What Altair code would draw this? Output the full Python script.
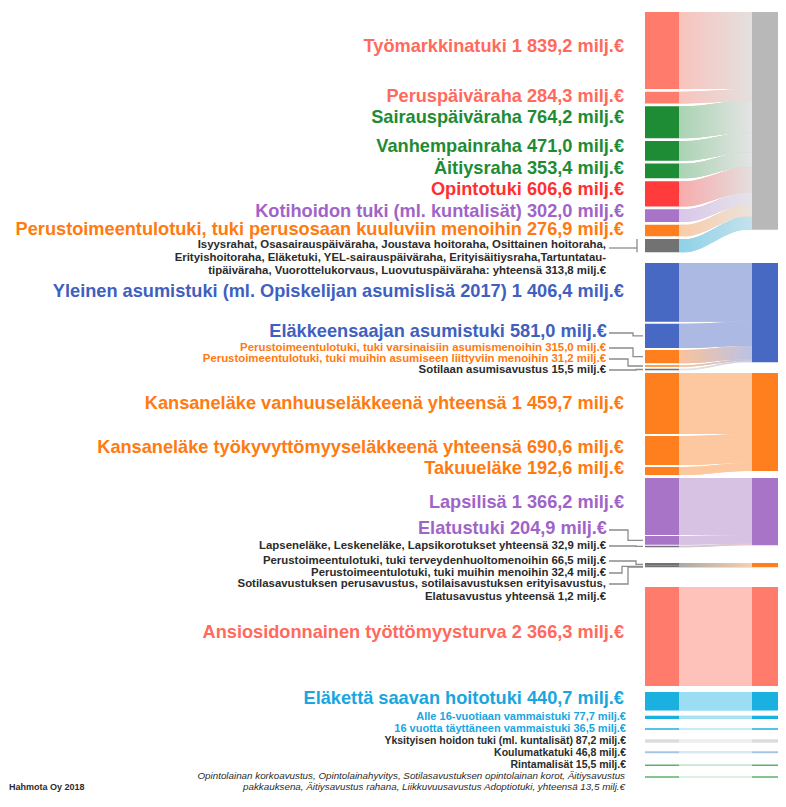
import altair as alt
import pandas as pd

# ------------------------------------------------------------------ data
# benefits (left column), values in milj.€
BENEFIT_VALUES = [
    1839.2, 284.3, 764.2, 471.0, 353.4, 606.6, 302.0, 276.9, 313.8,   # group 0 (grey target)
    1406.4, 581.0, 315.0, 31.2, 15.5,                                # group 1 (housing)
    1459.7, 690.6, 192.6,                                            # group 2 (pensions)
    1366.2, 204.9, 32.9,                                             # group 3 (children)
    66.5, 32.4, 1.2,                                                 # group 4
    2366.3,                                                          # group 5
    440.7,                                                           # group 6
    77.7, 36.5, 87.2, 46.8, 15.5, 13.5,                              # groups 7-12
]
BENEFIT_GROUP = [0] * 9 + [1] * 5 + [2] * 3 + [3] * 3 + [4] * 3 + [5] + [6] + [7, 8, 9, 10, 11, 12]

LABEL_TEXT = [
    "Työmarkkinatuki 1 839,2 milj.€",
    "Peruspäiväraha 284,3 milj.€",
    "Sairauspäiväraha 764,2 milj.€",
    "Vanhempainraha 471,0 milj.€",
    "Äitiysraha 353,4 milj.€",
    "Opintotuki 606,6 milj.€",
    "Kotihoidon tuki (ml. kuntalisät) 302,0 milj.€",
    "Perustoimeentulotuki, tuki perusosaan kuuluviin menoihin 276,9 milj.€",
    "Isyysrahat, Osasairauspäiväraha, Joustava hoitoraha, Osittainen hoitoraha,",
    "Erityishoitoraha, Eläketuki, YEL-sairauspäiväraha, Erityisäitiysraha,Tartuntatau-",
    "tipäiväraha, Vuorottelukorvaus, Luovutuspäiväraha: yhteensä 313,8 milj.€",
    "Yleinen asumistuki (ml. Opiskelijan asumislisä 2017) 1 406,4 milj.€",
    "Eläkkeensaajan asumistuki 581,0 milj.€",
    "Perustoimeentulotuki, tuki varsinaisiin asumismenoihin 315,0 milj.€",
    "Perustoimeentulotuki, tuki muihin asumiseen liittyviin menoihin 31,2 milj.€",
    "Sotilaan asumisavustus 15,5 milj.€",
    "Kansaneläke vanhuuseläkkeenä yhteensä 1 459,7 milj.€",
    "Kansaneläke työkyvyttömyyseläkkeenä yhteensä 690,6 milj.€",
    "Takuueläke 192,6 milj.€",
    "Lapsilisä 1 366,2 milj.€",
    "Elatustuki 204,9 milj.€",
    "Lapseneläke, Leskeneläke, Lapsikorotukset yhteensä 32,9 milj.€",
    "Perustoimeentulotuki, tuki terveydenhuoltomenoihin 66,5 milj.€",
    "Perustoimeentulotuki, tuki muihin menoihin 32,4 milj.€",
    "Sotilasavustuksen perusavustus, sotilaisavustuksen erityisavustus,",
    "Elatusavustus yhteensä 1,2 milj.€",
    "Ansiosidonnainen työttömyysturva 2 366,3 milj.€",
    "Eläkettä saavan hoitotuki 440,7 milj.€",
    "Alle 16-vuotiaan vammaistuki 77,7 milj.€",
    "16 vuotta täyttäneen vammaistuki 36,5 milj.€",
    "Yksityisen hoidon tuki (ml. kuntalisät) 87,2 milj.€",
    "Koulumatkatuki 46,8 milj.€",
    "Rintamalisät 15,5 milj.€",
    "Opintolainan korkoavustus, Opintolainahyvitys, Sotilasavustuksen opintolainan korot, Äitiysavustus",
    "pakkauksena, Äitiysavustus rahana, Liikkuvuusavustus Adoptiotuki, yhteensä 13,5 milj.€",
    "Hahmota Oy 2018",
]

# ------------------------------------------------------------------ layout / style
K = 0.0418          # px per milj.€
MIN_H = 1.5
XL = (645, 679)     # left node column (page px)
XR = (752, 785)     # right node column
GROUP_TOP = [12, 263, 373, 478, 563, 587, 692, 715.7, 728.2, 739.2, 751.3, 764.5, 776.2]
GROUP_GAP = [2.8, 2.0, 2.0, 1.0, 0.0, 0, 0, 0, 0, 0, 0, 0, 0]

SALMON, GREEN, RED, PURPLE = "#FF7B6B", "#1E8B35", "#FF3B3B", "#A874C8"
ORANGE, DGRAY, BLUE, CYAN = "#FF7F1E", "#727272", "#4769C4", "#1AB0E0"
LGRAY, LBLUE, LGREEN = "#DCDCDC", "#A3C6E6", "#5AB46A"

LEFT_COLOR = [SALMON, SALMON, GREEN, GREEN, GREEN, RED, PURPLE, ORANGE, DGRAY,
              BLUE, BLUE, ORANGE, ORANGE, DGRAY,
              ORANGE, ORANGE, ORANGE,
              PURPLE, PURPLE, DGRAY,
              DGRAY, DGRAY, DGRAY,
              SALMON, CYAN, CYAN, CYAN, LGRAY, LBLUE, LGREEN, LGREEN]
RIGHT_COLOR = ["#B8B8B8", BLUE, ORANGE, PURPLE, ORANGE, SALMON, CYAN, CYAN, CYAN,
               LGRAY, LBLUE, LGREEN, LGREEN]
FLOW_FROM = ["#F9C3BC", "#F9C3BC", "#A9D3B2", "#A9D3B2", "#A9D3B2", "#F8ABAB", "#D9C7EA", "#F9CCA8", "#8ED1E8",
             "#ABB9E3", "#ABB9E3", "#FBC29A", "#FBC29A", "#E6E6E6",
             "#FDC89F", "#FDC89F", "#FDC89F",
             "#D8C2E4", "#D8C2E4", "#C8C8C8",
             "#A8A8A8", "#A8A8A8", "#A8A8A8",
             "#FFC2BB", "#9BDDF2", "#A6E0F3", "#C5EBF7", "#EFEFEF", "#D7E7F4", "#C9E7CF", "#DCEFE0"]
FLOW_TO = ["#E3E0DF", "#E3E0DF", "#E4E4E4", "#E4E4E4", "#E4E4E4", "#E4DEDE", "#E6E3E8", "#EAE3DC", "#C4E2EC",
           "#ABB9E3", "#ABB9E3", "#B9C3E6", "#B9C3E6", "#C5CEEC",
           "#FDC89F", "#FDC89F", "#FDC89F",
           "#D8C2E4", "#D8C2E4", "#EBC8D0",
           "#FAD1B0", "#FAD1B0", "#FAD1B0",
           "#FFC2BB", "#9BDDF2", "#A6E0F3", "#C5EBF7", "#EFEFEF", "#D7E7F4", "#C9E7CF", "#DCEFE0"]

TXT = {"salmon": "#FF6A5C", "green": "#1E8B35", "red": "#FF3030", "purple": "#A064C8",
       "orange": "#FF7A10", "blue": "#3F60C0", "cyan": "#19A6DF", "dark": "#2B2B2B"}
LABEL_Y = [47, 97, 118, 147, 169, 190, 212, 230, 245, 258, 271, 292, 332, 348, 359, 370,
           404, 448, 469, 503, 529, 546, 561, 573, 584, 597, 633, 699, 717, 729, 741, 753,
           765, 776, 787, 787]
LABEL_KIND = ["big"] * 8 + ["small"] * 3 + ["big", "bigc", "smallo", "smallo", "smallo",
              "big", "big", "big", "big", "bigc", "small", "small", "small", "small", "small",
              "big", "big", "cyan", "cyan", "small2", "small2", "small2", "italic", "italic", "credit"]
LABEL_COLOR = ["salmon", "salmon", "green", "green", "green", "red", "purple", "orange",
               "dark", "dark", "dark", "blue", "blue", "orange", "orange", "dark",
               "orange", "orange", "orange", "purple", "purple", "dark", "dark", "dark", "dark", "dark",
               "salmon", "cyan", "cyan", "cyan", "dark", "dark", "dark", "dark", "dark", "dark"]
KIND_X = {"big": 624, "bigc": 607, "small": 606, "smallo": 606, "cyan": 626, "small2": 626,
          "italic": 625, "credit": 9}

# connectors: (label y, benefit index, elbow x)
CONNECTORS = [(333, 10, 633), (348, 11, 633), (359, 12, 628), (370, 13, 636),
              (530, 18, 628), (546, 19, 636), (561, 20, 636), (573, 21, 622), (584, 22, 628)]

# ------------------------------------------------------------------ sankey layout
node_rows, flow_rows, pos = [], [], {}
for g in range(len(GROUP_TOP)):
    idx = [i for i, t in enumerate(BENEFIT_GROUP) if t == g]
    ly = GROUP_TOP[g]
    ry = GROUP_TOP[g]
    for i in idx:
        h = BENEFIT_VALUES[i] * K
        if g != 4:
            h = max(h, MIN_H)
        y0, y1 = ly, ly + h
        r0, r1 = ry, ry + h
        pos[i] = (y0, y1)
        node_rows.append({"x": XL[0], "x2": XL[1], "y": y0, "y2": y1, "c": LEFT_COLOR[i]})
        d = 6
        xs = [XL[1], XL[1] + d, XR[0] - d, XR[0]]
        tops = [y0, y0, r0, r0]
        bots = [y1, y1, r1, r1]
        for xx, t, b in zip(xs, tops, bots):
            flow_rows.append({"fid": i, "x": xx, "y": t, "y2": b, "mid": FLOW_FROM[i]})
        ly = y1 + GROUP_GAP[g]
        ry = r1
    node_rows.append({"x": XR[0], "x2": XR[1], "y": GROUP_TOP[g], "y2": ry, "c": RIGHT_COLOR[g]})

nodes = pd.DataFrame(node_rows)
flows = pd.DataFrame(flow_rows)

conn_rows = []
for cid, (lyy, ni, ex) in enumerate(CONNECTORS):
    ny = (pos[ni][0] + pos[ni][1]) / 2
    for o, (xx, yy) in enumerate([(609, lyy), (ex, lyy), (ex, ny), (643, ny)]):
        conn_rows.append({"cid": cid, "o": o, "x": xx, "y": yy})
y8 = pos[8]
for o, (xx, yy) in enumerate([(609, 248), (637, 248)]):
    conn_rows.append({"cid": 100, "o": o, "x": xx, "y": yy})
for o, (xx, yy) in enumerate([(637, y8[0]), (637, y8[1])]):
    conn_rows.append({"cid": 101, "o": o, "x": xx, "y": yy})
conns = pd.DataFrame(conn_rows)

lab_rows = []
for j, t in enumerate(LABEL_TEXT):
    kind = LABEL_KIND[j]
    lab_rows.append({"text": t, "x": KIND_X[kind], "y": LABEL_Y[j], "kind": kind,
                     "c": TXT[LABEL_COLOR[j]]})
labels = pd.DataFrame(lab_rows)

# ------------------------------------------------------------------ chart
W, H = 770, 785
XS = alt.Scale(domain=[8, 8 + W], range=[0, W], nice=False, zero=False)
YS = alt.Scale(domain=[8, 8 + H], range=[0, H], nice=False, zero=False)

layers = []
layers.append(
    alt.Chart(flows).mark_area(interpolate="monotone", strokeWidth=0).encode(
        x=alt.X("x:Q", scale=XS, axis=None),
        y=alt.Y("y:Q", scale=YS, axis=None),
        y2="y2:Q", detail="fid:N", color=alt.Color("mid:N", scale=None))
)
for i in range(len(BENEFIT_VALUES)):
    grad = alt.LinearGradient(
        gradient="linear", x1=0, y1=0, x2=1, y2=0,
        stops=[alt.GradientStop(offset=0, color=FLOW_FROM[i]),
               alt.GradientStop(offset=1, color=FLOW_TO[i])])
    layers.append(
        alt.Chart(flows).transform_filter(alt.datum.fid == i)
        .mark_area(interpolate="monotone", color=grad, strokeWidth=0)
        .encode(x=alt.X("x:Q", scale=XS, axis=None),
                y=alt.Y("y:Q", scale=YS, axis=None),
                y2="y2:Q")
    )

layers.append(
    alt.Chart(nodes).mark_rect(strokeWidth=0).encode(
        x=alt.X("x:Q", scale=XS, axis=None), x2="x2:Q",
        y=alt.Y("y:Q", scale=YS, axis=None), y2="y2:Q",
        color=alt.Color("c:N", scale=None))
)

layers.append(
    alt.Chart(conns).mark_line(color="#8C8C8C", strokeWidth=1.3).encode(
        x=alt.X("x:Q", scale=XS, axis=None),
        y=alt.Y("y:Q", scale=YS, axis=None),
        detail="cid:N", order="o:Q")
)

FONT = "Liberation Sans"
text_styles = [
    (["big", "bigc"], dict(fontSize=18.2, fontWeight="bold")),
    (["small"], dict(fontSize=11.4, fontWeight="bold")),
    (["smallo"], dict(fontSize=11.4, fontWeight="bold")),
    (["cyan"], dict(fontSize=11, fontWeight="bold")),
    (["small2"], dict(fontSize=10.5, fontWeight="bold")),
    (["italic"], dict(fontSize=9.8, fontStyle="italic")),
]
for kinds, st in text_styles:
    layers.append(
        alt.Chart(labels).transform_filter(alt.FieldOneOfPredicate(field="kind", oneOf=kinds))
        .mark_text(align="right", baseline="middle", font=FONT, **st)
        .encode(x=alt.X("x:Q", scale=XS, axis=None),
                y=alt.Y("y:Q", scale=YS, axis=None),
                text="text:N", color=alt.Color("c:N", scale=None))
    )
layers.append(
    alt.Chart(labels).transform_filter(alt.datum.kind == "credit")
    .mark_text(align="left", baseline="middle", font=FONT, fontSize=9, fontWeight="bold")
    .encode(x=alt.X("x:Q", scale=XS, axis=None),
            y=alt.Y("y:Q", scale=YS, axis=None),
            text="text:N", color=alt.Color("c:N", scale=None))
)

chart = alt.layer(*layers).properties(
    width=W, height=H, autosize=alt.AutoSizeParams(type="none"), padding=0
).configure_view(strokeWidth=0)

chart.save("out.html", embed_options={"renderer": "svg", "actions": False})
